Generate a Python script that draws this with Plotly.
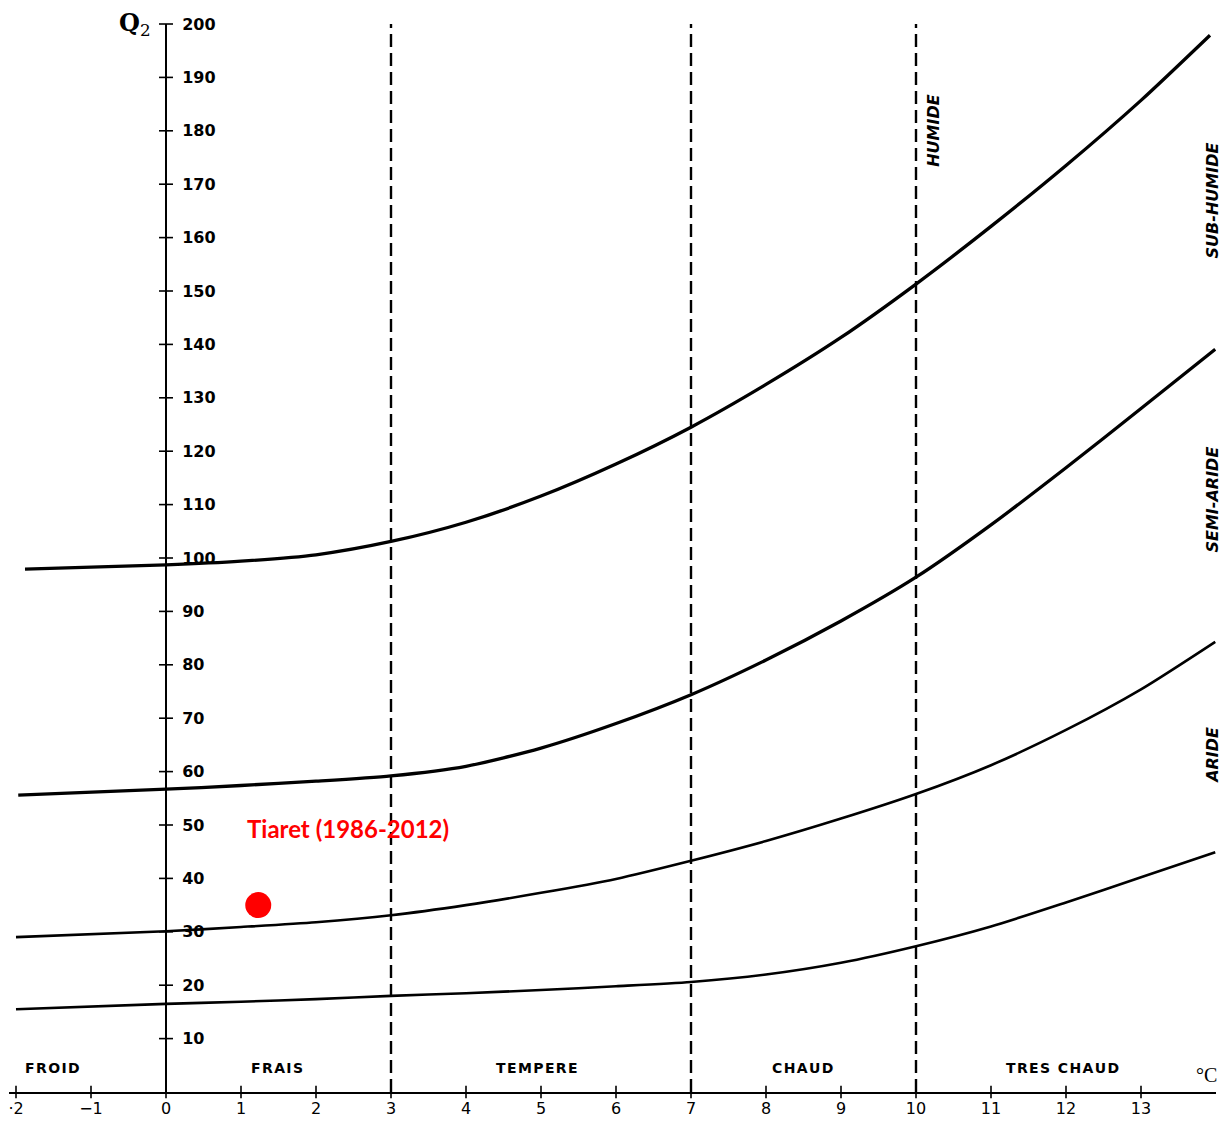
import plotly.graph_objects as go

# ---------------- data ----------------
curve_x = [-1.88, 0, 1, 2, 3, 4, 5, 6, 7, 8, 9, 10, 11, 12, 13, 13.92]
humide_sub = [97.9, 98.7, 99.4, 100.6, 103.1, 106.7, 111.6, 117.6, 124.5, 132.5, 141.3, 151.3, 162.1, 173.5, 185.7, 197.9]

curve2_x = [-1.97, 0, 1, 2, 3, 4, 5, 6, 7, 8, 9, 10, 11, 12, 13, 13.99]
sub_semi = [55.6, 56.7, 57.4, 58.2, 59.2, 61.0, 64.4, 69.0, 74.4, 80.9, 88.2, 96.4, 106.2, 116.9, 128.0, 139.1]

curve3_x = [-2.0, 0, 1, 2, 3, 4, 5, 6, 7, 8, 9, 10, 11, 12, 13, 13.99]
semi_aride = [29.0, 30.1, 30.9, 31.8, 33.1, 35.0, 37.3, 39.9, 43.3, 47.0, 51.2, 55.8, 61.2, 67.8, 75.4, 84.3]

curve4_x = [-2.0, 0, 1, 2, 3, 4, 5, 6, 7, 8, 9, 10, 11, 12, 13, 13.99]
aride_low = [15.5, 16.5, 16.9, 17.4, 18.0, 18.5, 19.1, 19.8, 20.6, 22.0, 24.2, 27.3, 31.0, 35.5, 40.2, 44.9]

boundaries_m = [3, 7, 10]

x_ticks = list(range(-2, 14))
x_tick_text = ["·2", "−1"] + [str(v) for v in range(0, 14)]
y_ticks = list(range(10, 201, 10))

zones = ["FROID", "FRAIS", "TEMPERE", "CHAUD", "TRES CHAUD"]
zone_x = [-1.52, 1.48, 4.95, 8.49, 11.95]

bio_labels = ["SUB-HUMIDE", "SEMI-ARIDE", "ARIDE"]
bio_y = [167, 111, 63]

station_name = "Tiaret (1986-2012)"
station_m = [1.23]
station_q2 = [35.0]

# ---------------- geometry ----------------
# the page body has an 8px margin, so the figure starts at (8, 8)
W, H = 1220, 1114
ML, MR, MT, MB = 1, 12, 16, 30
XMIN, XMAX = -2.0933, 14.0
YMIN, YMAX = 0, 200
ypos = (0 - XMIN) / (XMAX - XMIN)


def spaced(s):
    return "\u200a".join(list(s))


fig = go.Figure()

line_specs = [
    (curve_x, humide_sub, 3.3),
    (curve2_x, sub_semi, 3.3),
    (curve3_x, semi_aride, 2.6),
    (curve4_x, aride_low, 2.6),
]
for xs, ys, w in line_specs:
    fig.add_trace(go.Scatter(x=xs, y=ys, mode="lines",
                             line=dict(color="black", width=w, shape="spline", smoothing=0.7),
                             hoverinfo="skip", showlegend=False))

for m in boundaries_m:
    fig.add_trace(go.Scatter(x=[m, m], y=[0, 200.5], mode="lines",
                             line=dict(color="black", width=2.4, dash="13px,6px"),
                             hoverinfo="skip", showlegend=False, cliponaxis=False))

# tick marks crossing axes
fig.add_trace(go.Scatter(x=x_ticks, y=[0] * len(x_ticks), mode="markers",
                         marker=dict(symbol="line-ns", size=9, line=dict(color="black", width=1.6)),
                         hoverinfo="skip", showlegend=False, cliponaxis=False))
fig.add_trace(go.Scatter(x=[0] * len(y_ticks), y=y_ticks, mode="markers",
                         marker=dict(symbol="line-ew", size=10, line=dict(color="black", width=1.6)),
                         hoverinfo="skip", showlegend=False, cliponaxis=False))

# station
fig.add_trace(go.Scatter(x=station_m, y=station_q2, mode="markers",
                         marker=dict(color="#ff0000", size=26),
                         hoverinfo="skip", showlegend=False))

annotations = []
annotations.append(dict(x=2.43, y=49.3, xref="x", yref="y", text="<b>" + station_name + "</b>",
                        showarrow=False, font=dict(family="Lato", size=24, color="#ff0000")))
for z, zx in zip(zones, zone_x):
    annotations.append(dict(x=zx, y=4.5, xref="x", yref="y", text="<b>" + spaced(z) + "</b>",
                            showarrow=False,
                            font=dict(family="DejaVu Sans", size=14, color="black")))
annotations.append(dict(x=10.24, y=180, xref="x", yref="y", text="<b><i>HUMIDE</i></b>",
                        textangle=-90, showarrow=False,
                        font=dict(family="DejaVu Sans", size=16, color="black")))
for b, by in zip(bio_labels, bio_y):
    annotations.append(dict(x=13.95, y=by, xref="x", yref="y", text="<b><i>" + b + "</i></b>",
                            textangle=-90, showarrow=False,
                            font=dict(family="DejaVu Sans", size=16, color="black")))
annotations.append(dict(x=-0.41, y=1.0, xref="x", yref="paper", yanchor="middle",
                        text="<b>Q</b><sub>2</sub>",
                        showarrow=False, font=dict(family="DejaVu Serif", size=24, color="black")))
annotations.append(dict(x=13.87, y=3.2, xref="x", yref="y", text="°C",
                        showarrow=False, font=dict(family="Liberation Serif", size=20, color="black")))

fig.update_layout(
    width=W, height=H,
    margin=dict(l=ML, r=MR, t=MT, b=MB, pad=0, autoexpand=False),
    paper_bgcolor="white", plot_bgcolor="white",
    showlegend=False,
    annotations=annotations,
    xaxis=dict(range=[XMIN, XMAX], showgrid=False, zeroline=False, automargin=False,
               showline=True, linecolor="black", linewidth=2,
               tickmode="array", tickvals=x_ticks, ticktext=x_tick_text,
               ticks="", ticklabelstandoff=1,
               tickfont=dict(family="DejaVu Sans", size=16, color="black")),
    yaxis=dict(range=[YMIN, YMAX], showgrid=False, zeroline=False, automargin=False,
               anchor="free", position=ypos, side="right",
               showline=True, linecolor="black", linewidth=2,
               tickmode="array", tickvals=y_ticks, ticks="", ticklabelstandoff=12,
               tickfont=dict(family="DejaVu Sans", size=16, color="black", weight="bold")),
)

fig.write_html("out.html")
